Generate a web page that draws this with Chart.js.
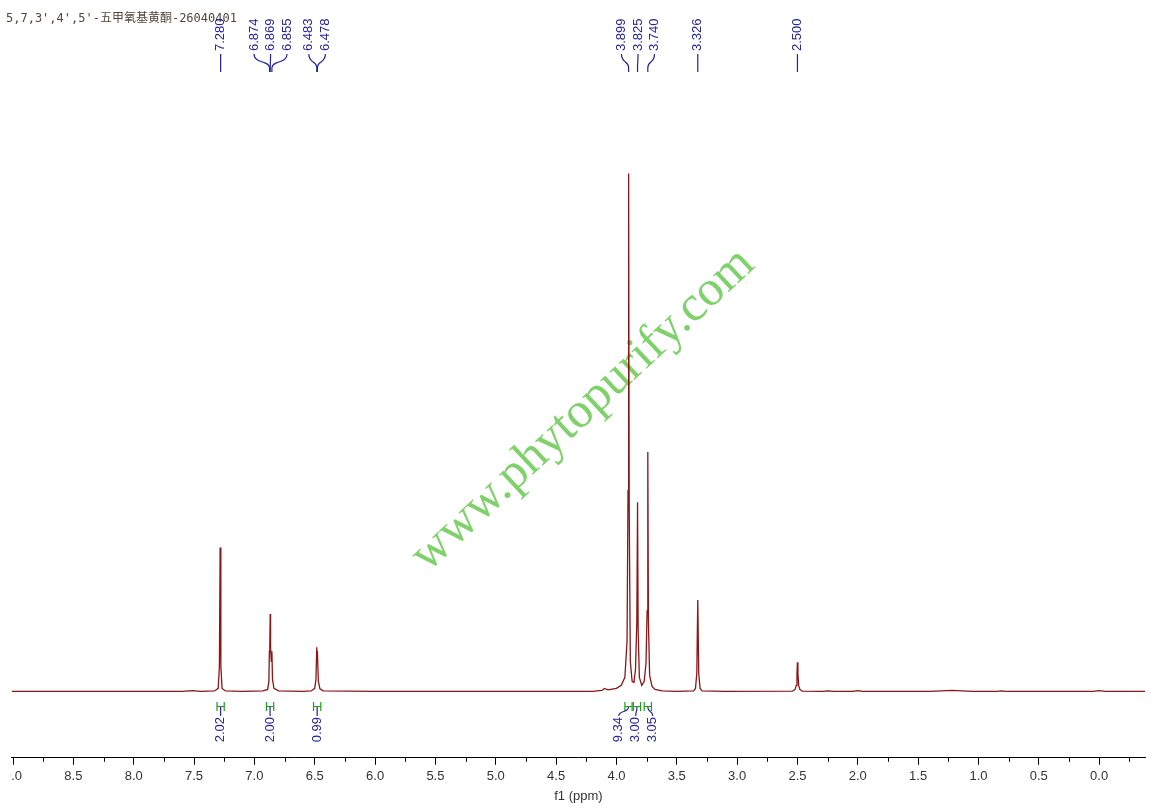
<!DOCTYPE html>
<html lang="zh">
<head>
  <meta charset="UTF-8" />
  <title>5,7,3',4',5'-五甲氧基黄酮 1H NMR</title>
  <script src="https://cdn.jsdelivr.net/npm/chart.js"></script>
  <style>
    body { margin: 0; background: #fff; }
    canvas { display: block; }
  </style>
</head>
<body>
  <canvas id="nmr" width="1155" height="812"></canvas>

  <script>
    // spectrum (ppm, height in arbitrary units)
    const ppm = [
      9.05, 7.60, 7.51, 7.45, 7.33, 7.300, 7.290, 7.284, 7.278, 7.268, 7.24, 7.10,
      6.93, 6.89, 6.880, 6.876, 6.874, 6.871, 6.869, 6.866, 6.860, 6.855, 6.850, 6.838, 6.80, 6.60,
      6.53, 6.500, 6.490, 6.483, 6.480, 6.478, 6.470, 6.457, 6.43, 6.00,
      4.20, 4.12, 4.10, 4.07, 4.00, 3.96, 3.930, 3.912, 3.904, 3.899, 3.894, 3.885, 3.870,
      3.855, 3.842, 3.831, 3.825, 3.820, 3.810, 3.790, 3.770, 3.755, 3.746, 3.740, 3.735,
      3.725, 3.705, 3.68, 3.62, 3.50, 3.36, 3.345, 3.334, 3.326, 3.318, 3.307, 3.29, 3.10,
      2.54, 2.520, 2.510, 2.504, 2.500, 2.496, 2.490, 2.480, 2.46, 2.30, 2.24, 2.20,
      2.04, 2.00, 1.96, 1.40, 1.22, 1.05, 0.85, 0.81, 0.77, 0.05, 0.00, -0.05, -0.38
    ];
    const intensity = [
      0, 0, 0.8, 0, 0.5, 3, 25, 143, 25, 3, 0.5, 0,
      0.5, 2, 10, 40, 48, 45, 77, 44, 30, 40, 12, 3, 0.5, 0,
      0.5, 3, 12, 44, 32, 40, 10, 2.5, 0.5, 0,
      0, 1, 3, 1.5, 3, 6, 14, 50, 200, 515, 180, 30, 10,
      9, 22, 70, 188, 60, 14, 6, 10, 28, 80, 238, 70,
      16, 5, 2, 0.5, 0, 0.5, 3, 18, 91, 18, 3, 0.5, 0,
      0.3, 2, 6, 18, 29, 18, 6, 2, 0.3, 0, 0.6, 0,
      0, 0.8, 0, 0, 1, 0, 0, 0.6, 0, 0, 0.8, 0, 0
    ];

    const peakGroups = [[7.280], [6.874, 6.869, 6.855], [6.483, 6.478], [3.899, 3.825, 3.740], [3.326], [2.500]];
    const integralGroups = [
      { ranges: [[7.31, 7.25]], values: ['2.02'] },
      { ranges: [[6.90, 6.84]], values: ['2.00'] },
      { ranges: [[6.51, 6.45]], values: ['0.99'] },
      { ranges: [[3.93, 3.87], [3.86, 3.80], [3.77, 3.71]], values: ['9.34', '3.00', '3.05'] }
    ];
    const sampleTitle = "5,7,3',4',5'-五甲氧基黄酮-26040401";
    const watermark = 'www.phytopurify.com';

    const BLUE = '#23239c';
    const GREEN = '#1e9e1e';

    const isHalf = v => Math.abs(v * 2 - Math.round(v * 2)) < 1e-6;
    const points = ppm.map((p, i) => ({ x: p, y: intensity[i] }));

    const decorations = {
      id: 'decorations',
      beforeDatasetsDraw(chart) {
        const ctx = chart.ctx;
        ctx.save();
        ctx.translate(583, 410);
        ctx.rotate(-43 * Math.PI / 180);
        ctx.font = '50px "Liberation Serif", "Times New Roman", serif';
        ctx.fillStyle = '#7fd26a';
        ctx.textAlign = 'center';
        ctx.textBaseline = 'middle';
        ctx.fillText(watermark, 0, 0);
        ctx.restore();
      },
      afterDraw(chart) {
        const ctx = chart.ctx;
        const xs = chart.scales.x;
        const area = chart.chartArea;
        const axisY = area.bottom;

        // the axis labels are cut at the plot's left edge, as in the printout
        ctx.save();
        ctx.fillStyle = '#fff';
        ctx.fillRect(0, axisY + 8, area.left - 1, 30);
        ctx.restore();

        // minor ticks
        ctx.save();
        ctx.strokeStyle = '#000';
        ctx.lineWidth = 1;
        xs.ticks.forEach(t => {
          if (!isHalf(t.value)) {
            const px = Math.round(xs.getPixelForValue(t.value)) + 0.5;
            ctx.beginPath();
            ctx.moveTo(px, axisY);
            ctx.lineTo(px, axisY + 4);
            ctx.stroke();
          }
        });
        ctx.restore();

        // sample name
        ctx.save();
        ctx.font = '12px "DejaVu Sans Mono", "Noto Sans CJK SC", monospace';
        ctx.fillStyle = '#54473a';
        ctx.textBaseline = 'alphabetic';
        ctx.fillText(sampleTitle, 6, 22);
        ctx.restore();

        // peak labels
        ctx.save();
        ctx.font = '13px "Liberation Sans", Arial, sans-serif';
        ctx.fillStyle = BLUE;
        ctx.strokeStyle = BLUE;
        ctx.lineWidth = 1.2;
        ctx.textBaseline = 'middle';
        ctx.textAlign = 'left';
        peakGroups.forEach(group => {
          const pxs = group.map(v => xs.getPixelForValue(v));
          const mid = pxs.reduce((a, b) => a + b, 0) / pxs.length;
          const step = 16.5;
          group.forEach((v, i) => {
            const lx = mid + (i - (group.length - 1) / 2) * step;
            ctx.save();
            ctx.translate(lx, 51);
            ctx.rotate(-Math.PI / 2);
            ctx.fillText(v.toFixed(3), 0, 0);
            ctx.restore();
            ctx.beginPath();
            ctx.moveTo(lx, 54);
            if (group.length > 1) {
              ctx.bezierCurveTo(lx, 64, pxs[i], 60, pxs[i], 68);
            }
            ctx.lineTo(pxs[i], 72);
            ctx.stroke();
          });
        });
        ctx.restore();

        // integrals
        ctx.save();
        ctx.font = '13px "Liberation Sans", Arial, sans-serif';
        ctx.textBaseline = 'middle';
        ctx.textAlign = 'right';
        integralGroups.forEach(g => {
          const centers = g.ranges.map(r => {
            const a = xs.getPixelForValue(r[0]);
            const b = xs.getPixelForValue(r[1]);
            ctx.strokeStyle = GREEN;
            ctx.lineWidth = 1.2;
            ctx.beginPath();
            ctx.moveTo(a, 702); ctx.lineTo(a, 711);
            ctx.moveTo(b, 702); ctx.lineTo(b, 711);
            ctx.moveTo(a, 706.5); ctx.lineTo(b, 706.5);
            ctx.stroke();
            return (a + b) / 2;
          });
          const n = g.values.length;
          const mid = centers.reduce((a, b) => a + b, 0) / centers.length;
          const step = 17;
          g.values.forEach((txt, i) => {
            const lx = n > 1 ? mid + (i - (n - 1) / 2) * step - 2 : centers[i];
            ctx.strokeStyle = BLUE;
            ctx.lineWidth = 1.2;
            ctx.beginPath();
            ctx.moveTo(centers[i], 707);
            if (n > 1) {
              ctx.bezierCurveTo(centers[i], 713, lx, 710, lx, 716);
            } else {
              ctx.lineTo(lx, 716);
            }
            ctx.stroke();
            ctx.save();
            ctx.fillStyle = BLUE;
            ctx.translate(lx, 717);
            ctx.rotate(-Math.PI / 2);
            ctx.fillText(txt, 0, 0);
            ctx.restore();
          });
        });
        ctx.restore();
      }
    };

    new Chart(document.getElementById('nmr').getContext('2d'), {
      type: 'line',
      data: {
        datasets: [{
          data: points,
          borderColor: '#8c1515',
          borderWidth: 1.3,
          pointRadius: 0,
          tension: 0,
          fill: false
        }]
      },
      options: {
        responsive: false,
        animation: false,
        layout: { padding: { left: 10, right: 10, top: 90, bottom: 8 } },
        plugins: { legend: { display: false }, tooltip: { enabled: false } },
        scales: {
          x: {
            type: 'linear',
            reverse: true,
            min: -0.38,
            max: 9.01,
            grid: {
              drawOnChartArea: false,
              tickLength: 7,
              tickColor: c => (c.tick && isHalf(c.tick.value)) ? '#000' : 'rgba(0,0,0,0)'
            },
            border: { display: true, color: '#000', width: 1 },
            ticks: {
              stepSize: 0.25,
              includeBounds: false,
              autoSkip: false,
              maxRotation: 0,
              padding: 4,
              color: '#333',
              font: { family: '"Liberation Sans", Arial, sans-serif', size: 13 },
              callback: v => isHalf(v) ? v.toFixed(1) : ''
            },
            title: {
              display: true,
              text: 'f1 (ppm)',
              color: '#333',
              padding: { top: 0, bottom: 0 },
              font: { family: '"Liberation Sans", Arial, sans-serif', size: 13 }
            }
          },
          y: {
            display: false,
            min: -66,
            max: 598
          }
        }
      },
      plugins: [decorations]
    });
  </script>
</body>
</html>
